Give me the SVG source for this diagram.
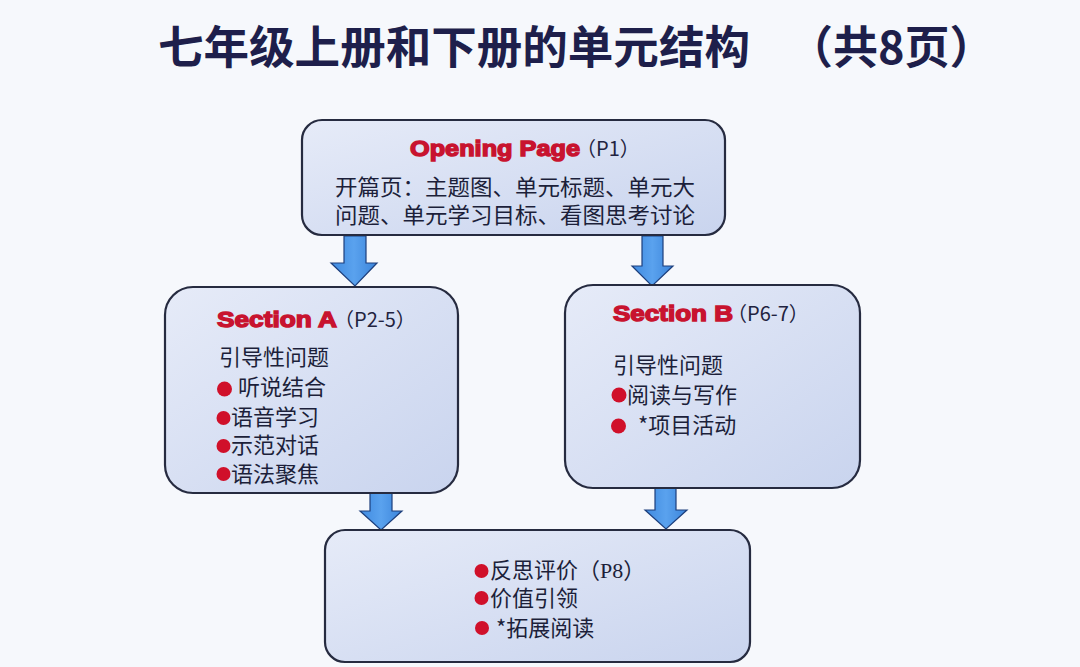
<svg xmlns="http://www.w3.org/2000/svg" width="1080" height="667" viewBox="0 0 1080 667">
<defs>
<linearGradient id="boxFill" x1="0" y1="0" x2="1" y2="1">
<stop offset="0" stop-color="#e6ebf8"/>
<stop offset="1" stop-color="#c9d4ee"/>
</linearGradient>
<linearGradient id="arrowFill" x1="0" y1="0" x2="1" y2="0">
<stop offset="0" stop-color="#3f8ae0"/>
<stop offset="0.5" stop-color="#5aa2ee"/>
<stop offset="1" stop-color="#3b84da"/>
</linearGradient>
<style>
.box{fill:url(#boxFill);stroke:#262b40;stroke-width:2.2}
.arrow{fill:url(#arrowFill);stroke:#1d3f7c;stroke-width:1.2;stroke-linejoin:miter}
.title{font-family:"Noto Sans CJK SC","Noto Sans",sans-serif;font-weight:700;fill:#1e1f4b}
.head{font-family:"Liberation Sans","Noto Sans",sans-serif;font-weight:700;fill:#c8132f;stroke:#c8132f;stroke-width:1.4;font-size:22px}
.pg{font-family:"Noto Sans CJK SC","Noto Sans",sans-serif;fill:#1f2340;font-size:20px}
.txt{font-family:"Noto Sans CJK SC","Noto Sans",sans-serif;fill:#1c1f3a;font-size:22px}
.ser{font-family:"Liberation Serif","Noto Sans CJK SC",serif}
.dot{fill:#d0102a}
</style>
</defs>
<rect width="1080" height="667" fill="#f6f8fc"/>
<g id="title">
<text class="title" x="158" y="64" font-size="45.5" textLength="592" lengthAdjust="spacingAndGlyphs">七年级上册和下册的单元结构</text>
<text class="title" x="788" y="64" font-size="45">（共8页）</text>
</g>
<g id="connectors">
<path class="arrow" d="M344,236 H366 V263 H377 L355,286 L331,263 H344 Z"/>
<path class="arrow" d="M642,236 H663 V266 H673 L652,286 L632,266 H642 Z"/>
<path class="arrow" d="M370,492 H392 V511 H402 L381,530 L360,511 H370 Z"/>
<path class="arrow" d="M655,488 H676 V510 H687 L666,529 L645,510 H655 Z"/>
</g>
<g id="opening">
<rect class="box" x="302" y="120" width="423" height="115" rx="20"/>
<text class="head" x="410" y="156" textLength="170" lengthAdjust="spacingAndGlyphs">Opening Page</text>
<text class="pg" x="576" y="156">（P1）</text>
<text class="txt" x="335" y="195" textLength="360" lengthAdjust="spacingAndGlyphs">开篇页：主题图、单元标题、单元大</text>
<text class="txt" x="335" y="223" textLength="360" lengthAdjust="spacingAndGlyphs">问题、单元学习目标、看图思考讨论</text>
</g>
<g id="sectionA">
<rect class="box" x="165" y="287" width="293" height="206" rx="28"/>
<text class="head" x="217" y="327" textLength="120" lengthAdjust="spacingAndGlyphs">Section A</text>
<text class="pg" x="334" y="327">（P2-5）</text>
<text class="txt" x="219" y="365">引导性问题</text>
<circle class="dot" cx="224.5" cy="389" r="7.5"/>
<text class="txt" x="238" y="395">听说结合</text>
<circle class="dot" cx="223.5" cy="418" r="7"/>
<text class="txt" x="231" y="425">语音学习</text>
<circle class="dot" cx="223.5" cy="446" r="7"/>
<text class="txt" x="231" y="453">示范对话</text>
<circle class="dot" cx="223.5" cy="474" r="7"/>
<text class="txt" x="231" y="482">语法聚焦</text>
</g>
<g id="sectionB">
<rect class="box" x="565" y="285" width="295" height="203" rx="28"/>
<text class="head" x="613" y="321" textLength="120" lengthAdjust="spacingAndGlyphs">Section B</text>
<text class="pg" x="727" y="321">（P6-7）</text>
<text class="txt" x="613" y="373">引导性问题</text>
<circle class="dot" cx="619" cy="395" r="7.5"/>
<text class="txt" x="627" y="403">阅读与写作</text>
<circle class="dot" cx="618.5" cy="426" r="7.5"/>
<text class="txt" x="638" y="433">*项目活动</text>
</g>
<g id="reflection">
<rect class="box" x="325" y="530" width="425" height="132" rx="20"/>
<circle class="dot" cx="481.5" cy="571" r="7"/>
<text class="txt" x="490" y="578">反思评价<tspan class="ser">（P8）</tspan></text>
<circle class="dot" cx="481.5" cy="598" r="7"/>
<text class="txt" x="490" y="606">价值引领</text>
<circle class="dot" cx="482" cy="628" r="7"/>
<text class="txt" x="496" y="636">*拓展阅读</text>
</g>
</svg>
